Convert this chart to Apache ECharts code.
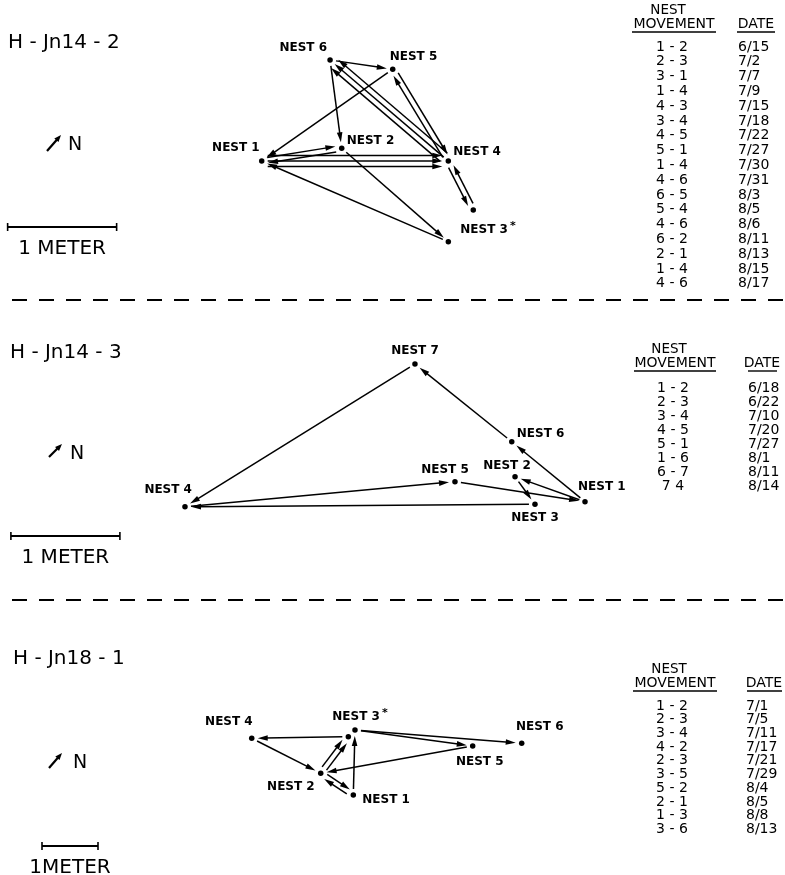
<!DOCTYPE html>
<html><head><meta charset="utf-8">
<script src="https://cdn.jsdelivr.net/npm/echarts@6/dist/echarts.min.js"></script>
<style>html,body{margin:0;padding:0;background:#fff}#c{width:785px;height:875px}</style>
</head><body><div id="c"></div>
<script>
// ================= DATA (nest positions in metres, movements, tables) =================
// Panel 1
const P1_TITLE = 'H - Jn14 - 2';
const P1_NEST_ID = ['1', '2', '3', '3b', '4', '5', '6'];
const P1_NEST_X = [2.401, 3.135, 4.113, 4.342, 4.113, 3.603, 3.028];
const P1_NEST_Y = [1.206, 1.323, 0.466, 0.757, 1.206, 2.048, 2.133];
const P1_NEST_LABEL = ['NEST 1', 'NEST 2', 'NEST 3*', '', 'NEST 4', 'NEST 5', 'NEST 6'];
const P1_MOVE_FROM = ['1', '2', '3', '1', '4', '3b', '4', '5', '1', '4', '6', '5', '4', '6', '2', '1', '4'];
const P1_MOVE_TO   = ['2', '3', '1', '4', '3b', '4', '5', '1', '4', '6', '5', '4', '6', '2', '1', '4', '6'];
const P1_TABLE_MOVE = ['1-2', '2-3', '3-1', '1-4', '4-3', '3-4', '4-5', '5-1', '1-4', '4-6', '6-5', '5-4', '4-6', '6-2', '2-1', '1-4', '4-6'];
const P1_TABLE_DATE = ['6/15', '7/2', '7/7', '7/9', '7/15', '7/18', '7/22', '7/27', '7/30', '7/31', '8/3', '8/5', '8/6', '8/11', '8/13', '8/15', '8/17'];

// Panel 2
const P2_TITLE = 'H - Jn14 - 3';
const P2_NEST_ID = ['1', '2', '3', '4', '5', '6', '7'];
const P2_NEST_X = [5.367, 4.725, 4.908, 1.697, 4.174, 4.695, 3.807];
const P2_NEST_Y = [0.833, 1.062, 0.809, 0.787, 1.017, 1.383, 2.096];
const P2_NEST_LABEL = ['NEST 1', 'NEST 2', 'NEST 3', 'NEST 4', 'NEST 5', 'NEST 6', 'NEST 7'];
const P2_MOVE_FROM = ['1', '2', '3', '4', '5', '1', '6', '7'];
const P2_MOVE_TO   = ['2', '3', '4', '5', '1', '6', '7', '4'];
const P2_TABLE_MOVE = ['1-2', '2-3', '3-4', '4-5', '5-1', '1-6', '6-7', '7 4'];
const P2_TABLE_DATE = ['6/18', '6/22', '7/10', '7/20', '7/27', '8/1', '8/11', '8/14'];

// Panel 3
const P3_TITLE = 'H - Jn18 - 1';
const P3_NEST_ID = ['1', '2', '3', '3b', '4', '5', '6'];
const P3_NEST_X = [6.309, 5.727, 6.339, 6.220, 4.495, 8.441, 9.316];
const P3_NEST_Y = [1.232, 1.620, 2.393, 2.273, 2.245, 2.107, 2.155];
const P3_NEST_LABEL = ['NEST 1', 'NEST 2', 'NEST 3*', '', 'NEST 4', 'NEST 5', 'NEST 6'];
const P3_MOVE_FROM = ['1', '2', '3b', '4', '2', '3', '5', '2', '1', '3'];
const P3_MOVE_TO   = ['2', '3b', '4', '2', '3b', '5', '2', '1', '3', '6'];
const P3_TABLE_MOVE = ['1-2', '2-3', '3-4', '4-2', '2-3', '3-5', '5-2', '2-1', '1-3', '3-6'];
const P3_TABLE_DATE = ['7/1', '7/5', '7/11', '7/17', '7/21', '7/29', '8/4', '8/5', '8/8', '8/13'];

const TABLE_HEAD = ['NEST', 'MOVEMENT', 'DATE'];
const SCALE_LABELS = ['1 METER', '1 METER', '1METER'];

// ================= STYLE / LAYOUT =================
const FONT = '"DejaVu Sans", sans-serif';
const ST = { gap: 5.5, trimStart: 6, trimEnd: 6, headLen: 10, headHalf: 2.8, lw: 1.5 };
const PANELS = [
  { top: 20, k: 109, xmax: 7.2, ymax: 2.5, bar: [0.07, 0.601],
    title: [8, 45], north: [[47, 151], [61, 135]], nText: [68, 145],
    lab: { dx: [-2, 5, 12, 0, 5, -3, -3], dy: [-13, -7, -12, 0, -9, -12, -12],
           al: ['right', 'left', 'left', 'left', 'left', 'left', 'right'] },
    tab: { headX: 674, dateX: 756, moveX: 672, dateL: 738, y1: 10, y2: 24, row0: 47, step: 14.8, ul: [632, 716, 737, 775] } },
  { top: 320, k: 109, xmax: 7.2, ymax: 2.5, bar: [0.10, 0.518],
    title: [10, 355], north: [[49, 457], [62, 444]], nText: [70, 454],
    lab: { dx: [-7, -8, 0, 7, -10, 5, 0], dy: [-15, -11, 14, -17, -12, -8, -13],
           al: ['left', 'center', 'center', 'right', 'center', 'left', 'center'] },
    tab: { headX: 675, dateX: 762, moveX: 673, dateL: 748, y1: 349, y2: 363, row0: 388, step: 14.1, ul: [634, 716, 748, 777] } },
  { top: 640, k: 56, xmax: 14, ymax: 4, bar: [0.75, 0.321],
    title: [13, 661], north: [[49, 768], [62, 753]], nText: [73, 763],
    lab: { dx: [9, -6, 5, 0, 1, 7, 18], dy: [5, 14, -13, 0, -16, 16, -16],
           al: ['left', 'right', 'center', 'left', 'right', 'center', 'center'] },
    tab: { headX: 675, dateX: 764, moveX: 672, dateL: 746, y1: 669, y2: 683, row0: 706, step: 13.7, ul: [633, 717, 747, 782] } }
];

const DATA = [
  { title: P1_TITLE, ids: P1_NEST_ID, xs: P1_NEST_X, ys: P1_NEST_Y, labels: P1_NEST_LABEL, from: P1_MOVE_FROM, to: P1_MOVE_TO, tm: P1_TABLE_MOVE, td: P1_TABLE_DATE },
  { title: P2_TITLE, ids: P2_NEST_ID, xs: P2_NEST_X, ys: P2_NEST_Y, labels: P2_NEST_LABEL, from: P2_MOVE_FROM, to: P2_MOVE_TO, tm: P2_TABLE_MOVE, td: P2_TABLE_DATE },
  { title: P3_TITLE, ids: P3_NEST_ID, xs: P3_NEST_X, ys: P3_NEST_Y, labels: P3_NEST_LABEL, from: P3_MOVE_FROM, to: P3_MOVE_TO, tm: P3_TABLE_MOVE, td: P3_TABLE_DATE }
];

function buildMoves(d) {
  const cnt = {}, seen = {};
  const key = (a, b) => [a, b].sort().join('|');
  d.from.forEach((f, i) => { const k = key(f, d.to[i]); cnt[k] = (cnt[k] || 0) + 1; });
  return d.from.map((f, i) => {
    const t = d.to[i], k = key(f, t);
    const slot = seen[k] || 0; seen[k] = slot + 1;
    const a = d.ids.indexOf(f), b = d.ids.indexOf(t);
    return [d.xs[a], d.ys[a], d.xs[b], d.ys[b], slot, cnt[k], f < t ? 1 : -1];
  });
}

function moveRender(params, api) {
  const p0 = api.coord([api.value(0), api.value(1)]);
  const p1 = api.coord([api.value(2), api.value(3)]);
  const slot = api.value(4), cnt = api.value(5), flip = api.value(6);
  let dx = p1[0] - p0[0], dy = p1[1] - p0[1];
  const len = Math.hypot(dx, dy); dx /= len; dy /= len;
  const nx = -dy * flip, ny = dx * flip;
  const off = (slot - (cnt - 1) / 2) * ST.gap;
  const sx = p0[0] + dx * ST.trimStart + nx * off, sy = p0[1] + dy * ST.trimStart + ny * off;
  const ex = p1[0] - dx * ST.trimEnd + nx * off, ey = p1[1] - dy * ST.trimEnd + ny * off;
  const bx = ex - dx * ST.headLen, by = ey - dy * ST.headLen;
  return { type: 'group', children: [
    { type: 'line', shape: { x1: sx, y1: sy, x2: bx + dx * 3, y2: by + dy * 3 }, style: { stroke: '#000', lineWidth: ST.lw } },
    { type: 'polygon', shape: { points: [[ex, ey], [bx + nx * ST.headHalf, by + ny * ST.headHalf], [bx - nx * ST.headHalf, by - ny * ST.headHalf]] }, style: { fill: '#000' } }
  ] };
}

function barRender(label) {
  return function (params, api) {
    const x0 = api.value(0), y = api.value(1);
    const a = api.coord([x0, y]), b = api.coord([x0 + 1, y]);
    return { type: 'group', children: [
      { type: 'line', shape: { x1: a[0], y1: a[1], x2: b[0], y2: b[1] }, style: { stroke: '#000', lineWidth: 2 } },
      { type: 'line', shape: { x1: a[0], y1: a[1] - 4, x2: a[0], y2: a[1] + 4 }, style: { stroke: '#000', lineWidth: 1.6 } },
      { type: 'line', shape: { x1: b[0], y1: b[1] - 4, x2: b[0], y2: b[1] + 4 }, style: { stroke: '#000', lineWidth: 1.6 } },
      { type: 'text', style: { text: label, x: (a[0] + b[0]) / 2, y: a[1] + 22, align: 'center', verticalAlign: 'middle', font: '20px ' + FONT, fill: '#000' } }
    ] };
  };
}

const grids = [], xAxes = [], yAxes = [], series = [], graphics = [];
PANELS.forEach((P, i) => {
  const d = DATA[i];
  grids.push({ left: 0, top: P.top, width: P.xmax * P.k, height: P.ymax * P.k, containLabel: false });
  xAxes.push({ type: 'value', gridIndex: i, min: 0, max: P.xmax, show: false });
  yAxes.push({ type: 'value', gridIndex: i, min: 0, max: P.ymax, show: false });
  series.push({ type: 'custom', xAxisIndex: i, yAxisIndex: i, renderItem: moveRender, data: buildMoves(d), encode: { x: [0, 2], y: [1, 3] }, silent: true, z: 2 });
  series.push({ type: 'custom', xAxisIndex: i, yAxisIndex: i, renderItem: barRender(SCALE_LABELS[i]), data: [P.bar], silent: true, z: 2 });
  series.push({
    type: 'scatter', xAxisIndex: i, yAxisIndex: i, symbolSize: 5.5, itemStyle: { color: '#000', opacity: 1 }, silent: true, z: 3,
    data: d.ids.map((id, j) => ({
      value: [d.xs[j], d.ys[j]],
      label: {
        show: d.labels[j] !== '', position: 'inside', offset: [P.lab.dx[j], P.lab.dy[j]], align: P.lab.al[j], verticalAlign: 'middle',
        color: '#000', opacity: 1, textBorderWidth: 0,
        formatter: () => {
          const t = d.labels[j];
          return t.endsWith('*') ? '{a|' + t.slice(0, -1) + '}{s|*}' : '{a|' + t + '}';
        },
        rich: { a: { fontFamily: FONT, fontWeight: 'bold', fontSize: 12, color: '#000', textBorderWidth: 0 },
                s: { fontFamily: FONT, fontWeight: 'bold', fontSize: 11, color: '#000', textBorderWidth: 0, padding: [0, 0, 7, 2] } }
      }
    }))
  });
  // title
  graphics.push({ type: 'text', left: P.title[0], top: P.title[1] - 12, style: { text: d.title, font: '20px ' + FONT, fill: '#000' } });
  // north arrow
  const [n0, n1] = P.north;
  const ddx = n1[0] - n0[0], ddy = n1[1] - n0[1], L = Math.hypot(ddx, ddy), ux = ddx / L, uy = ddy / L;
  graphics.push({ type: 'line', shape: { x1: n0[0], y1: n0[1], x2: n1[0] - ux * 4, y2: n1[1] - uy * 4 }, style: { stroke: '#000', lineWidth: 2.2 } });
  graphics.push({ type: 'polygon', shape: { points: [[n1[0], n1[1]], [n1[0] - ux * 7 - uy * 2.8, n1[1] - uy * 7 + ux * 2.8], [n1[0] - ux * 7 + uy * 2.8, n1[1] - uy * 7 - ux * 2.8]] }, style: { fill: '#000' } });
  graphics.push({ type: 'text', x: P.nText[0], y: P.nText[1], style: { text: 'N', font: '19px ' + FONT, fill: '#000', verticalAlign: 'middle' } });
  // table
  const T = P.tab;
  graphics.push({ type: 'text', x: T.headX - 6, y: T.y1, style: { text: TABLE_HEAD[0], font: '13.5px ' + FONT, fill: '#000', align: 'center', verticalAlign: 'middle' } });
  graphics.push({ type: 'text', x: T.headX, y: T.y2, style: { text: TABLE_HEAD[1], font: '14px ' + FONT, fill: '#000', align: 'center', verticalAlign: 'middle' } });
  graphics.push({ type: 'text', x: T.dateX, y: T.y2, style: { text: TABLE_HEAD[2], font: '14px ' + FONT, fill: '#000', align: 'center', verticalAlign: 'middle' } });
  graphics.push({ type: 'line', shape: { x1: T.ul[0], y1: T.y2 + 8, x2: T.ul[1], y2: T.y2 + 8 }, style: { stroke: '#000', lineWidth: 1.4 } });
  graphics.push({ type: 'line', shape: { x1: T.ul[2], y1: T.y2 + 8, x2: T.ul[3], y2: T.y2 + 8 }, style: { stroke: '#000', lineWidth: 1.4 } });
  d.tm.forEach((m, r) => {
    const y = T.row0 + r * T.step;
    graphics.push({ type: 'text', x: T.moveX, y: y, style: { text: m.replace('-', ' - '), font: '14px ' + FONT, fill: '#000', align: 'center', verticalAlign: 'middle' } });
    graphics.push({ type: 'text', x: T.dateL, y: y, style: { text: d.td[r], font: '14px ' + FONT, fill: '#000', align: 'left', verticalAlign: 'middle' } });
  });
});
// dashed separators
[300, 600].forEach(y => graphics.push({ type: 'line', shape: { x1: 12, y1: y, x2: 785, y2: y }, style: { stroke: '#000', lineWidth: 2, lineDash: [15, 12] } }));

const chart = echarts.init(document.getElementById('c'), null, { renderer: 'canvas' });
chart.setOption({
  backgroundColor: '#fff',
  animation: false,
  grid: grids, xAxis: xAxes, yAxis: yAxes, series: series,
  graphic: { elements: graphics }
});
</script></body></html>
